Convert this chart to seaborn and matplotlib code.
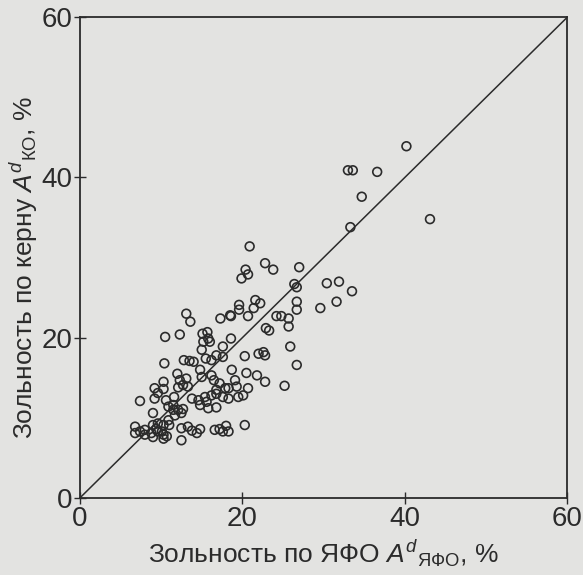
import pandas as pd
import matplotlib
matplotlib.use("Agg")
import matplotlib.pyplot as plt
import seaborn as sns

# ash content, nuclear-physical logging (x) vs core sampling (y), %
ash_yafo = [
    40.2, 33.0, 33.6, 36.6, 34.7, 43.1, 33.3, 20.9, 22.8, 23.8, 27.0, 20.4, 20.7, 19.9,
    26.4, 26.7, 30.4, 31.9, 33.5, 26.7, 26.7, 29.6, 31.6, 13.1, 13.6, 17.3, 18.6, 20.7,
    19.6, 19.6, 21.6, 22.2, 21.4, 24.2, 24.8, 25.7, 25.7, 22.9, 23.3, 10.5, 12.3, 15.1,
    15.7, 16.0, 15.2, 18.6, 17.6, 25.9, 15.8,
    15.0, 16.8, 17.6, 16.2, 15.5, 10.4, 12.8, 13.5, 14.0, 14.8, 15.0, 16.2, 16.5, 17.2,
    16.8, 17.9, 12.0, 12.3, 13.1, 13.3, 12.1, 12.7, 10.3, 9.2, 10.3, 9.6, 9.2, 10.6,
    10.9, 11.5, 11.6, 13.8, 14.6, 15.4, 16.2, 16.8, 17.6, 14.8, 15.6, 15.8, 16.8, 18.3,
    11.5, 12.1, 12.7, 12.5, 11.7, 7.4, 9.0, 10.9, 11.0, 10.3, 9.6, 9.0, 9.4,
    6.8, 7.4, 8.0, 6.8, 8.0, 8.8, 9.6, 10.3, 9.0, 10.1, 10.7, 10.3,
    12.5, 13.3, 13.8, 14.8, 14.4, 12.5, 16.6, 17.2, 18.0, 18.3, 17.6,
    18.5, 18.7, 18.3, 22.6, 22.0, 22.8, 20.3, 26.7, 20.5, 21.8, 22.8, 25.2,
    19.1, 19.3, 20.7, 19.5, 20.1, 20.3,
]
ash_core = [
    43.9, 40.9, 40.9, 40.7, 37.6, 34.8, 33.8, 31.4, 29.3, 28.5, 28.8, 28.5, 27.9, 27.4,
    26.7, 26.3, 26.8, 27.0, 25.8, 24.5, 23.5, 23.7, 24.5, 23.0, 22.0, 22.4, 22.7, 22.7,
    24.1, 23.5, 24.7, 24.3, 23.7, 22.7, 22.7, 22.4, 21.4, 21.2, 20.9, 20.1, 20.4, 20.5,
    20.7, 19.5, 19.5, 19.9, 18.9, 18.9, 19.9,
    18.5, 17.8, 17.6, 17.2, 17.4, 16.8, 17.2, 17.1, 17.0, 16.0, 15.1, 15.3, 14.7, 14.3,
    13.5, 13.7, 15.5, 14.7, 14.9, 13.9, 13.8, 14.1, 14.5, 13.7, 13.6, 13.1, 12.4, 12.2,
    11.4, 11.6, 12.6, 12.4, 12.2, 12.6, 12.8, 13.0, 12.6, 11.6, 12.0, 11.2, 11.3, 12.4,
    11.0, 11.0, 11.1, 10.6, 10.3, 12.1, 10.6, 9.7, 9.1, 9.1, 9.3, 9.1, 8.6,
    8.9, 8.3, 8.5, 8.1, 7.9, 8.1, 8.3, 7.9, 7.6, 8.3, 7.7, 7.4,
    8.7, 8.9, 8.4, 8.6, 8.1, 7.2, 8.5, 8.6, 9.0, 8.3, 8.3,
    22.8, 16.0, 13.7, 18.2, 18.0, 17.8, 17.7, 16.6, 15.6, 15.3, 14.5, 14.0,
    14.7, 13.9, 13.7, 12.6, 12.8, 9.1,
]
ticks = [0, 20, 40, 60]

df = pd.DataFrame({"yafo": ash_yafo, "core": ash_core})

paper = "#e3e3e1"
ink = "#2b2b2b"

sns.set_style("ticks")
plt.rcParams["font.family"] = ["Liberation Sans", "DejaVu Sans"]
plt.rcParams["mathtext.fontset"] = "custom"
plt.rcParams["mathtext.rm"] = "Liberation Sans"
plt.rcParams["mathtext.it"] = "Liberation Sans:italic"

fig = plt.figure(figsize=(5.83, 5.75), dpi=100, facecolor=paper)
ax = fig.add_axes([0.137, 0.134, 0.836, 0.836], facecolor=paper)

ax.plot([0, 60], [0, 60], color=ink, lw=1.1)
sns.scatterplot(data=df, x="yafo", y="core", ax=ax, s=40,
                facecolor="none", edgecolor=ink, linewidth=1.2)

ax.set_xlim(0, 60)
ax.set_ylim(0, 60)
ax.set_xticks(ticks)
ax.set_yticks(ticks)
ax.tick_params(direction="inout", length=9, width=1.0, color=ink,
               labelsize=20, labelcolor=ink, pad=1)
for sp in ax.spines.values():
    sp.set_color(ink)
    sp.set_linewidth(1.3)

ax.set_xlabel(r"Зольность по ЯФО $A^{d}{}_{\mathrm{ЯФО}}$, %", fontsize=19, color=ink)
ax.set_ylabel(r"Зольность по керну $A^{d}{}_{\mathrm{КО}}$, %", fontsize=19, color=ink)
ax.xaxis.set_label_coords(0.5, -0.082)
ax.yaxis.set_label_coords(-0.082, 0.48)

fig.savefig("out.png", dpi=100, facecolor=paper)
